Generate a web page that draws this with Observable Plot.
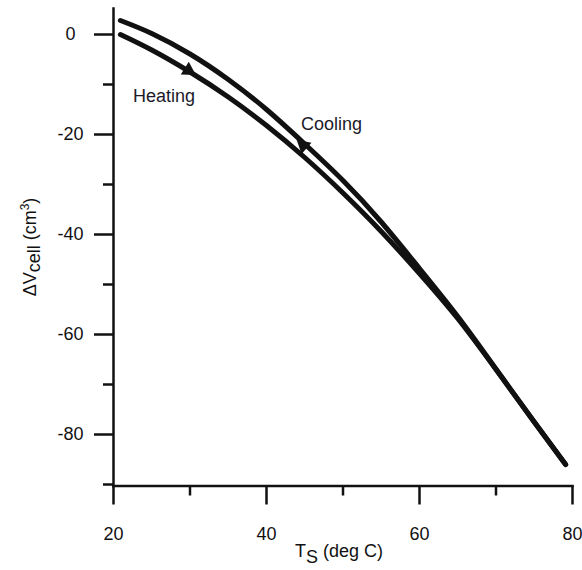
<!DOCTYPE html>
<html><head><meta charset="utf-8">
<script src="https://cdn.jsdelivr.net/npm/d3@7"></script>
<script src="https://cdn.jsdelivr.net/npm/@observablehq/plot@0.6"></script>
<style>html,body{margin:0;padding:0;background:#fff}</style>
</head><body><div id="chart"></div>
<script>
// Data
const tempHeating = [20.9, 25, 30, 35, 40, 45, 50, 55, 60, 65, 70, 75, 79.1];
const volHeating  = [0, -3.1, -7.5, -12.5, -18.2, -24.6, -31.7, -39.4, -47.8, -56.8, -67.0, -77.5, -86.0];
const tempCooling = [20.9, 25, 30, 35, 40, 45, 50, 55, 60, 65, 70, 75, 79.1];
const volCooling  = [2.8, 0.2, -3.9, -9.0, -15.0, -21.9, -29.2, -37.5, -46.8, -56.4, -66.9, -77.5, -86.0];
const xTicks = [20, 40, 60, 80];
const xMinorTicks = [30, 50, 70];
const yTicks = [0, -20, -40, -60, -80];
const yMinorTicks = [-10, -30, -50, -70, -90];
const labelNames = ["Heating", "Cooling"];
const labelTemps = [26.6, 48.5];
const labelVols = [-12.3, -17.9];
const arrowTemps = [29.8, 44.8];
const arrowVols = [-7.2, -22.2];
const arrowDirs = ["heating", "cooling"];

const heating = tempHeating.map((t, i) => ({T: t, V: volHeating[i]}));
const cooling = tempCooling.map((t, i) => ({T: t, V: volCooling[i]}));
const labels = labelNames.map((s, i) => ({text: s, T: labelTemps[i], V: labelVols[i]}));
const arrows = arrowTemps.map((t, i) => ({T: t, V: arrowVols[i], dir: arrowDirs[i]}));

const font = "'Liberation Sans', Arial, sans-serif";
const ink = "#111";

const chart = Plot.plot({
  width: 582,
  height: 570,
  marginLeft: 113,
  marginRight: 10,
  marginTop: 8,
  marginBottom: 84.5,
  style: {fontFamily: font, fontSize: "18px", color: ink, background: "#fff"},
  x: {domain: [20, 80]},
  y: {domain: [-90.3, 5.2]},
  marks: [
    Plot.axisX(xTicks, {tickSize: 19, tickPadding: 22, strokeWidth: 2.5, fontSize: 18, label: null, tickFormat: d => String(d)}),
    Plot.axisX(xMinorTicks, {tickSize: 10, strokeWidth: 2.5, tickFormat: () => "", label: null}),
    Plot.axisY(yTicks, {tickSize: 19, tickPadding: 24, textAnchor: "middle", strokeWidth: 2.5, fontSize: 18, label: null, tickFormat: d => String(d)}),
    Plot.axisY(yMinorTicks, {tickSize: 10, strokeWidth: 2.5, tickFormat: () => "", label: null}),
    Plot.frame({anchor: "left", strokeWidth: 2.5, stroke: ink}),
    Plot.frame({anchor: "bottom", strokeWidth: 2.5, stroke: ink}),
    Plot.line(heating, {x: "T", y: "V", curve: "natural", stroke: ink, strokeWidth: 5}),
    Plot.line(cooling, {x: "T", y: "V", curve: "natural", stroke: ink, strokeWidth: 5}),
    Plot.dot(arrows, {x: "T", y: "V", symbol: "triangle", r: 5.6, fill: ink, stroke: null,
      rotate: d => d.dir === "heating" ? 122 : -49}),
    Plot.text(labels, {x: "T", y: "V", text: "text", fontSize: 18, fill: "#1c1a2a"})
  ]
});

document.getElementById("chart").append(chart);

// Axis titles with subscripts / superscripts
const svg = d3.select(chart);
const xt = svg.append("text")
  .attr("x", 339).attr("y", 557)
  .attr("text-anchor", "middle")
  .attr("font-family", font).attr("font-size", 18).attr("fill", ink);
xt.append("tspan").text("T");
xt.append("tspan").attr("dy", 6).text("S");
xt.append("tspan").attr("dy", -6).text(" (deg C)");

const yt = svg.append("text")
  .attr("transform", "translate(36,247) rotate(-90)")
  .attr("text-anchor", "middle")
  .attr("font-family", font).attr("font-size", 18).attr("fill", ink);
yt.append("tspan").text("ΔV");
yt.append("tspan").attr("dy", 4).text("cell");
yt.append("tspan").attr("dy", -4).text(" (cm");
yt.append("tspan").attr("dy", -7).attr("font-size", 12).text("3");
yt.append("tspan").attr("dy", 7).text(")");
</script>
</body></html>
